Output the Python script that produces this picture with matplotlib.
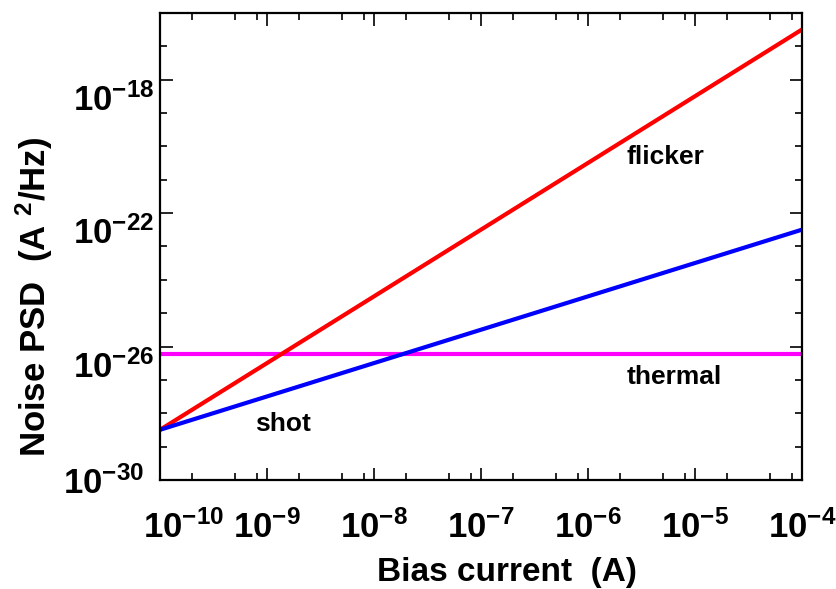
import matplotlib
matplotlib.use("Agg")
import matplotlib.pyplot as plt
import matplotlib.ticker as mticker
import matplotlib.transforms as mtransforms
from matplotlib import font_manager
import numpy as np

# values (endpoints of straight lines on log-log axes)
bias_current = [1e-10, 1e-4]
shot_psd = [3.2e-29, 3.2e-23]
flicker_psd = [3.2e-29, 3.2e-17]
thermal_psd = [6.0e-27, 6.0e-27]

xticks = [1e-10, 1e-9, 1e-8, 1e-7, 1e-6, 1e-5, 1e-4]
xticklabels = [r"$\mathbf{10^{-%d}}$" % n for n in (10, 9, 8, 7, 6, 5, 4)]
yticks = [1e-30, 1e-26, 1e-22, 1e-18]
yticklabels = [r"$\mathbf{10^{-%d}}$" % n for n in (30, 26, 22, 18)]

names = {f.name for f in font_manager.fontManager.ttflist}
family = "Liberation Sans Narrow" if "Liberation Sans Narrow" in names else "Liberation Sans"

plt.rcParams["font.family"] = [family, "DejaVu Sans"]
plt.rcParams["font.weight"] = "bold"
plt.rcParams["mathtext.fontset"] = "custom"
plt.rcParams["mathtext.rm"] = family + ":bold"
plt.rcParams["mathtext.bf"] = family + ":bold"
plt.rcParams["mathtext.it"] = family + ":bold"

fig = plt.figure(figsize=(8.37, 5.89), dpi=100)
ax = fig.add_axes([160 / 837, 109 / 589, 642 / 837, 467 / 589])

ax.plot(bias_current, thermal_psd, color="#ff00ff", lw=3)
ax.plot(bias_current, flicker_psd, color="#ff0000", lw=3)
ax.plot(bias_current, shot_psd, color="#0000ff", lw=3)

ax.set_xscale("log")
ax.set_yscale("log")
ax.set_xlim(1e-10, 1e-4)
ax.set_ylim(1e-30, 1e-16)

ax.set_xticks(xticks)
ax.set_xticklabels(xticklabels, fontsize=25)
ax.xaxis.set_minor_locator(mticker.LogLocator(base=10, subs=[2, 5, 8], numticks=20))
ax.xaxis.set_minor_formatter(mticker.NullFormatter())

ax.set_yticks(yticks)
ax.set_yticklabels(yticklabels, fontsize=25)
ax.yaxis.set_minor_locator(mticker.FixedLocator([10.0 ** k for k in range(-30, -15)]))
ax.yaxis.set_minor_formatter(mticker.NullFormatter())

ax.tick_params(which="both", direction="in", top=True, right=True, width=1.2)
ax.tick_params(which="major", length=9)
ax.tick_params(which="minor", length=5)
ax.tick_params(axis="x", which="major", pad=22)
ax.tick_params(axis="y", which="major", pad=4)
for s in ax.spines.values():
    s.set_linewidth(1.6)

# nudge the first x label and the y labels like the original
lab = ax.get_xticklabels()
lab[0].set_transform(lab[0].get_transform() + mtransforms.ScaledTranslation(0.24, 0, fig.dpi_scale_trans))
ylab = ax.get_yticklabels()
ylab[0].set_transform(ylab[0].get_transform() + mtransforms.ScaledTranslation(-0.1, 0, fig.dpi_scale_trans))
for t in ylab[1:]:
    t.set_transform(t.get_transform() + mtransforms.ScaledTranslation(0, -0.17, fig.dpi_scale_trans))

ax.set_xlabel("Bias current  (A)", fontsize=24, fontweight="bold")
ax.set_ylabel(r"Noise PSD  (A $^{2}$/Hz)", fontsize=25, fontweight="bold")
ax.yaxis.set_label_coords(-0.163, 0.392)
ax.xaxis.set_label_coords(0.54, -0.165)

ax.text(7.7e-10, 3.0e-29, "shot", fontsize=19, fontweight="bold")
ax.text(2.3e-6, 7.5e-28, "thermal", fontsize=19, fontweight="bold")
ax.text(2.3e-6, 2.9e-21, "flicker", fontsize=19, fontweight="bold")

fig.savefig("out.png", dpi=100)
